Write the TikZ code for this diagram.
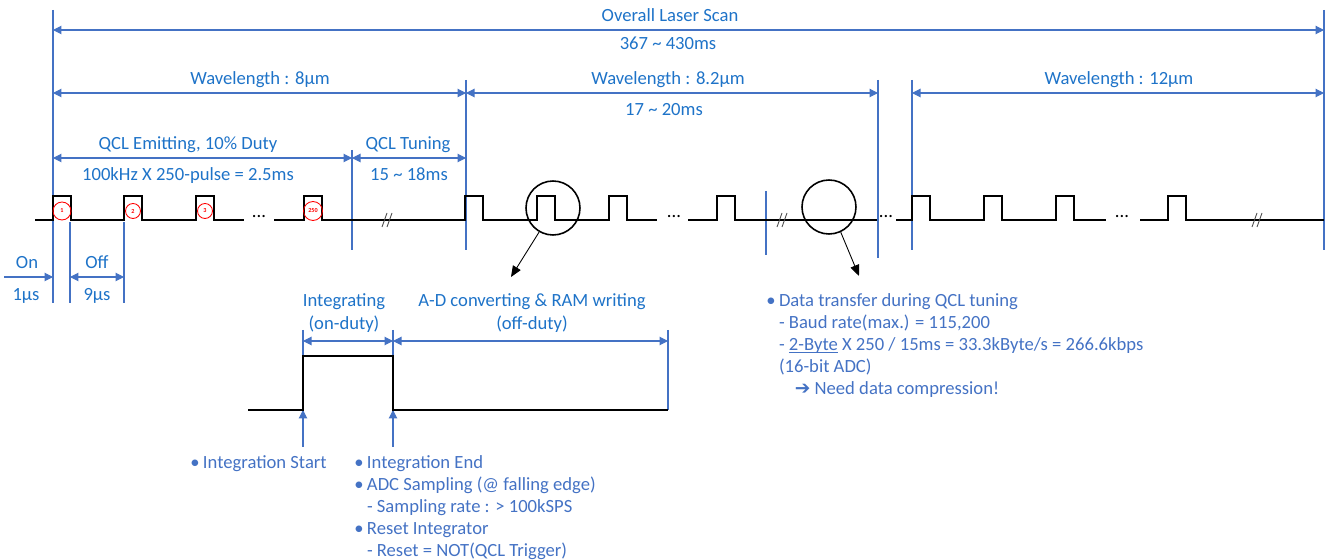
\documentclass[tikz,border=0pt]{standalone}
\usepackage{fontspec}
\setmainfont{Carlito}
\newfontfamily\symfont{DejaVu Sans}
\usepackage{xcolor}
\usepackage{tikz}
\usetikzlibrary{arrows.meta}

\definecolor{dimblue}{RGB}{68,114,196}
\definecolor{labblue}{RGB}{30,115,200}
\definecolor{noteblue}{RGB}{68,114,196}

\newcommand{\bul}{\makebox[0.68em][l]{\textbullet}}
\newcommand{\ind}{\hspace{0.68em}}
\newcommand{\ubar}[1]{\underline{\smash{#1}}}

\tikzset{
  dimline/.style={dimblue, line width=0.6pt},
  dimarrow/.style={dimline, {Triangle[length=0.17cm,width=0.17cm]}-{Triangle[length=0.17cm,width=0.17cm]}},
  onearrow/.style={dimline, -{Triangle[length=0.17cm,width=0.17cm]}},
  sig/.style={black, line width=1.1pt, line join=miter},
  lab/.style={text=labblue, inner sep=0pt, text height=0.72em, text depth=0.2em},
  note/.style={text=noteblue, align=left, anchor=north west, inner sep=0pt},
  magnify/.style={circle, draw, line width=0.9pt, minimum size=1.08cm, inner sep=0pt},
  pointer/.style={black, line width=0.5pt, -{Triangle[length=0.22cm,width=0.18cm]}},
  pulsenum/.style={circle, draw=red, line width=0.5pt, inner sep=0pt, text=red, font=\fontsize{3.5pt}{4pt}\selectfont\bfseries},
  brk/.style={black!70, line width=0.5pt}
}

\begin{document}
\begin{tikzpicture}[x=0.02cm, y=-0.02cm, font=\fontsize{10.6pt}{12.5pt}\selectfont]
\useasboundingbox (0,0) rectangle (1330,560);

% boundaries
\foreach \x/\a/\b in {53/10/303, 466/80/250, 878/80/258, 912/80/250, 1324/10/250,
    352/150/250, 766/191/255, 70/222/303, 124/222/303, 303/330/447, 393/330/447, 668/330/410}
  \draw[dimline] (\x,\a) -- (\x,\b);

% spans
\draw[dimarrow] (53,30) -- (1324,30);
\draw[dimarrow] (53,93) -- (466,93);
\draw[dimarrow] (466,93) -- (878,93);
\draw[dimarrow] (912,93) -- (1324,93);
\draw[dimarrow] (53,158) -- (352,158);
\draw[dimarrow] (352,158) -- (466,158);
\draw[onearrow] (4,277) -- (53,277);
\draw[dimarrow] (70,277) -- (124,277);
\draw[dimarrow] (303,341) -- (393,341);
\draw[dimarrow] (393,341) -- (668,341);
\draw[onearrow] (303,447) -- (303,410);
\draw[onearrow] (393,447) -- (393,410);

% pulse trains
\draw[sig] (35,220) \foreach \p in {53,124,196} {-- (\p,220) -- (\p,196) -- (\p+18,196) -- (\p+18,220)} -- (244,220);
\draw[sig] (274,220) \foreach \p in {304,465,537,609} {-- (\p,220) -- (\p,196) -- (\p+18,196) -- (\p+18,220)} -- (657,220);
\draw[sig] (688,220) \foreach \p in {717} {-- (\p,220) -- (\p,196) -- (\p+18,196) -- (\p+18,220)} -- (877,220);
\draw[sig] (896,220) \foreach \p in {912,984,1056} {-- (\p,220) -- (\p,196) -- (\p+18,196) -- (\p+18,220)} -- (1106,220);
\draw[sig] (1140,220) \foreach \p in {1168} {-- (\p,220) -- (\p,196) -- (\p+18,196) -- (\p+18,220)} -- (1324,220);
\foreach \x in {388,783,1258}
  \draw[brk] (\x-6,227) -- (\x-1,213) (\x-1,227) -- (\x+4,213);
\foreach \x [count=\i] in {259,674,886,1122}
  \node[anchor=base, inner sep=0pt] (gap\i) at (\x,218) {...};

% pulse numbers
\foreach \x/\r/\n in {62/9/1, 133/7.5/2, 205/7.5/3, 313/9.5/250}
  \node[pulsenum, minimum size=\r*0.04cm] (num\n) at (\x,211) {\n};

% magnified pulses
\node[magnify] (magA) at (553,208) {};
\node[magnify] (magB) at (829,207) {};
\coordinate (ptA) at (511,277);
\coordinate (ptB) at (859,276);
\draw[pointer] (magA.240) -- (ptA);
\draw[pointer] (magB.295) -- (ptB);

% one period
\draw[sig] (248,410) -- (303,410) -- (303,356) -- (393,356) -- (393,410) -- (668,410);

% labels
\node[lab] (scan) at (670,17) {Overall Laser Scan};
\node[lab] (scantime) at (668,45) {367 \textasciitilde{} 430ms};
\node[lab] (wlA) at (260,80) {Wavelength : 8µm};
\node[lab] (wlB) at (668,80) {Wavelength : 8.2µm};
\node[lab] (wlBtime) at (664,111) {17 \textasciitilde{} 20ms};
\node[lab] (wlC) at (1119,80) {Wavelength : 12µm};
\node[lab] (emit) at (188,145) {QCL Emitting, 10\% Duty};
\node[lab] (emittime) at (188,176) {100kHz X 250-pulse = 2.5ms};
\node[lab] (tune) at (408,145) {QCL Tuning};
\node[lab] (tunetime) at (409,176) {15 \textasciitilde{} 18ms};
\node[lab] (on) at (27,264) {On};
\node[lab] (ontime) at (26,296) {1µs};
\node[lab] (off) at (97,264) {Off};
\node[lab] (offtime) at (97,296) {9µs};
\node[lab] (integ) at (344,302) {Integrating};
\node[lab] (integduty) at (344,325) {(on-duty)};
\node[lab] (conv) at (532,302) {A-D converting \& RAM writing};
\node[lab] (convduty) at (532,325) {(off-duty)};

% notes
\node[note] (startnote) at (190,455) {\bul Integration Start};
\node[note] (endnote) at (354,455) {\bul Integration End\\
  \bul ADC Sampling (@ falling edge)\\
  \ind - Sampling rate : > 100kSPS\\
  \bul Reset Integrator\\
  \ind - Reset = NOT(QCL Trigger)};
\node[note] (xfernote) at (766,293) {\bul Data transfer during QCL tuning\\
  \ind - Baud rate(max.) = 115,200\\
  \ind - \ubar{2-Byte} X 250 / 15ms = 33.3kByte/s = 266.6kbps\\
  \ind (16-bit ADC)\\
  \ind\hspace{0.85em}{\symfont ➔} Need data compression!};
\end{tikzpicture}
\end{document}
